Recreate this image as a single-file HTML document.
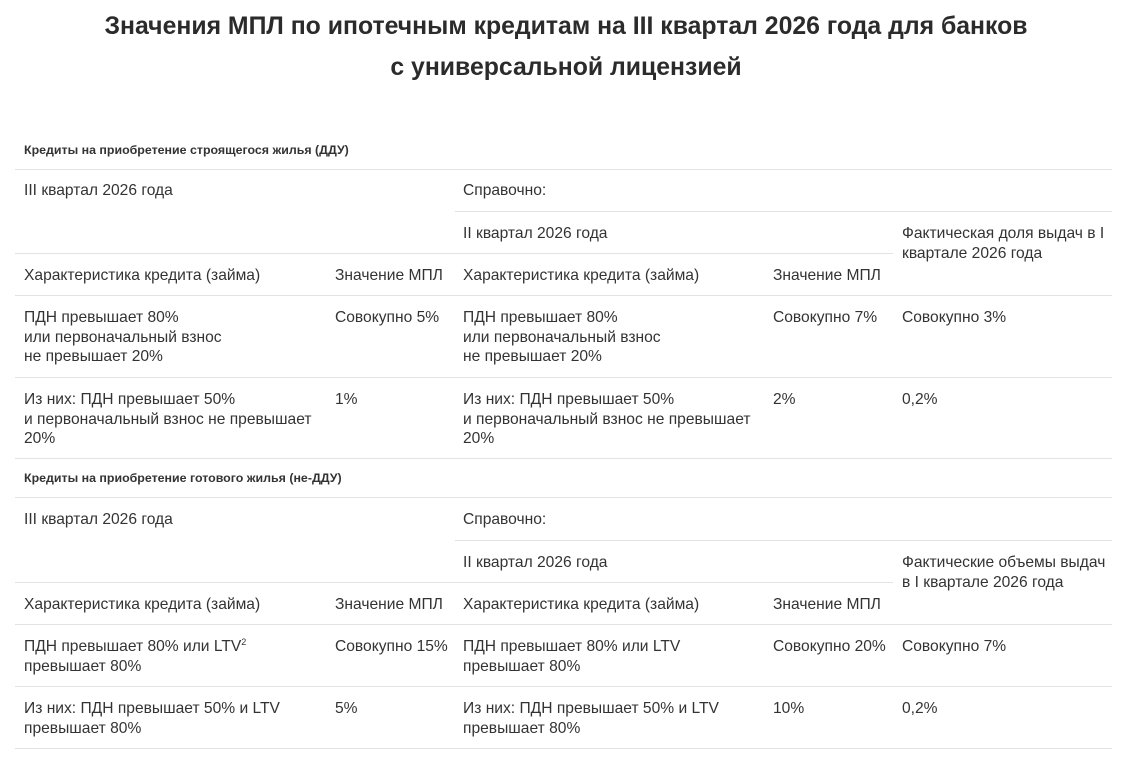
<!DOCTYPE html>
<html><head><meta charset="utf-8"><style>
body{margin:0;width:1132px;height:759px;background:#fff;position:relative;overflow:hidden;font-family:"Liberation Sans","DejaVu Sans",sans-serif;color:#333;}
.t{position:absolute;font-size:15.6px;line-height:19.5px;white-space:nowrap;margin-top:1px;}
.b{position:absolute;font-size:12.4px;font-weight:bold;white-space:nowrap;margin-top:1px;}
.h{position:absolute;left:0;width:1132px;text-align:center;font-size:24.8px;font-weight:bold;color:#2b2b2b;white-space:nowrap;margin-top:2px;}
.l{position:absolute;height:1px;background:#e3e3e3;}
sup{font-size:9px;line-height:0;}
</style></head><body>
<div class="h" style="top:11px">Значения МПЛ по ипотечным кредитам на III квартал 2026 года для банков</div>
<div class="h" style="top:52px">с универсальной лицензией</div>

<div class="b" style="left:24px;top:142px">Кредиты на приобретение строящегося жилья (ДДУ)</div>
<div class="l" style="left:15px;width:1097px;top:169px"></div>
<div class="t" style="left:24px;top:180px">III квартал 2026 года</div>
<div class="t" style="left:463px;top:180px">Справочно:</div>
<div class="l" style="left:455px;width:657px;top:211px"></div>
<div class="t" style="left:463px;top:223px">II квартал 2026 года</div>
<div class="t" style="left:902px;top:223px">Фактическая доля выдач в I<br>квартале 2026 года</div>
<div class="l" style="left:15px;width:878px;top:253px"></div>
<div class="t" style="left:24px;top:265px">Характеристика кредита (займа)</div>
<div class="t" style="left:335px;top:265px">Значение МПЛ</div>
<div class="t" style="left:463px;top:265px">Характеристика кредита (займа)</div>
<div class="t" style="left:773px;top:265px">Значение МПЛ</div>
<div class="l" style="left:15px;width:1097px;top:295px"></div>
<div class="t" style="left:24px;top:307px">ПДН превышает 80%<br>или первоначальный взнос<br>не превышает 20%</div>
<div class="t" style="left:335px;top:307px">Совокупно 5%</div>
<div class="t" style="left:463px;top:307px">ПДН превышает 80%<br>или первоначальный взнос<br>не превышает 20%</div>
<div class="t" style="left:773px;top:307px">Совокупно 7%</div>
<div class="t" style="left:902px;top:307px">Совокупно 3%</div>
<div class="l" style="left:15px;width:1097px;top:377px"></div>
<div class="t" style="left:24px;top:389px">Из них: ПДН превышает 50%<br>и первоначальный взнос не превышает<br>20%</div>
<div class="t" style="left:335px;top:389px">1%</div>
<div class="t" style="left:463px;top:389px">Из них: ПДН превышает 50%<br>и первоначальный взнос не превышает<br>20%</div>
<div class="t" style="left:773px;top:389px">2%</div>
<div class="t" style="left:902px;top:389px">0,2%</div>
<div class="l" style="left:15px;width:1097px;top:458px"></div>

<div class="b" style="left:24px;top:470px">Кредиты на приобретение готового жилья (не-ДДУ)</div>
<div class="l" style="left:15px;width:1097px;top:497px"></div>
<div class="t" style="left:24px;top:509px">III квартал 2026 года</div>
<div class="t" style="left:463px;top:509px">Справочно:</div>
<div class="l" style="left:455px;width:657px;top:540px"></div>
<div class="t" style="left:463px;top:552px">II квартал 2026 года</div>
<div class="t" style="left:902px;top:552px">Фактические объемы выдач<br>в I квартале 2026 года</div>
<div class="l" style="left:15px;width:878px;top:582px"></div>
<div class="t" style="left:24px;top:594px">Характеристика кредита (займа)</div>
<div class="t" style="left:335px;top:594px">Значение МПЛ</div>
<div class="t" style="left:463px;top:594px">Характеристика кредита (займа)</div>
<div class="t" style="left:773px;top:594px">Значение МПЛ</div>
<div class="l" style="left:15px;width:1097px;top:624px"></div>
<div class="t" style="left:24px;top:636px">ПДН превышает 80% или LTV<sup>2</sup><br>превышает 80%</div>
<div class="t" style="left:335px;top:636px">Совокупно 15%</div>
<div class="t" style="left:463px;top:636px">ПДН превышает 80% или LTV<br>превышает 80%</div>
<div class="t" style="left:773px;top:636px">Совокупно 20%</div>
<div class="t" style="left:902px;top:636px">Совокупно 7%</div>
<div class="l" style="left:15px;width:1097px;top:686px"></div>
<div class="t" style="left:24px;top:698px">Из них: ПДН превышает 50% и LTV<br>превышает 80%</div>
<div class="t" style="left:335px;top:698px">5%</div>
<div class="t" style="left:463px;top:698px">Из них: ПДН превышает 50% и LTV<br>превышает 80%</div>
<div class="t" style="left:773px;top:698px">10%</div>
<div class="t" style="left:902px;top:698px">0,2%</div>
<div class="l" style="left:15px;width:1097px;top:748px"></div>
</body></html>
